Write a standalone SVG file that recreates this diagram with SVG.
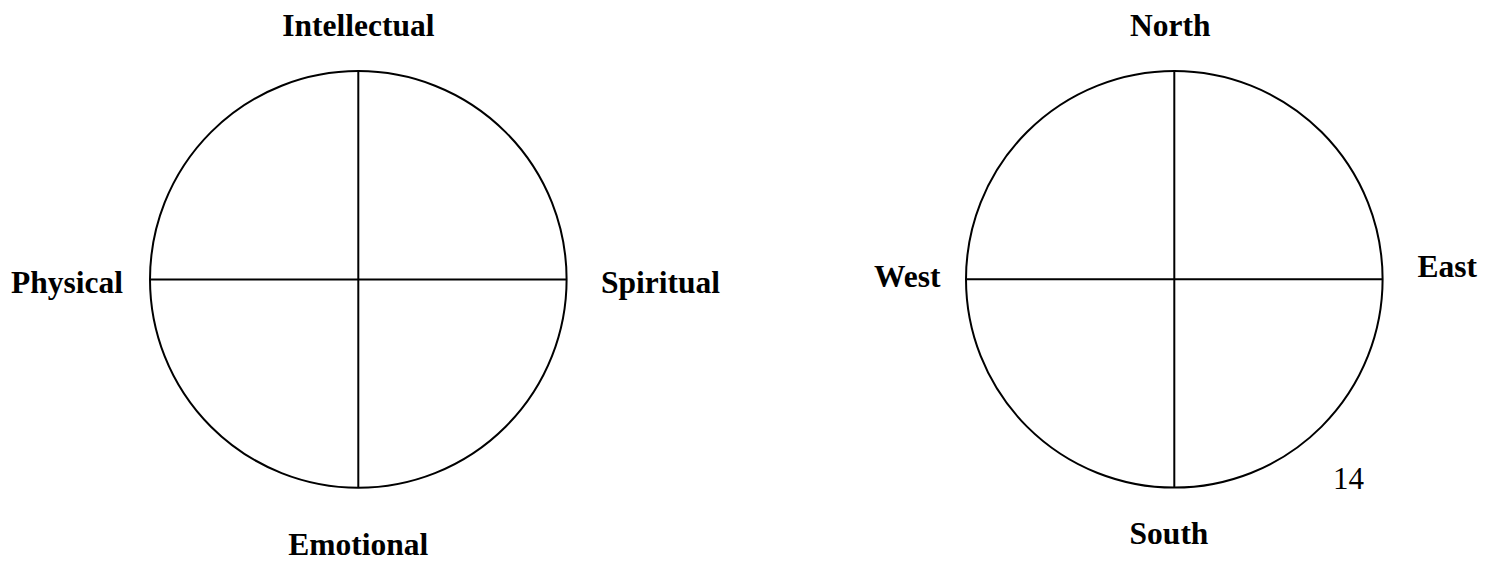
<svg xmlns="http://www.w3.org/2000/svg" width="1494" height="562" viewBox="0 0 1494 562">
<style>
.c{fill:none;stroke:#000;stroke-width:2}
.l{stroke:#000;stroke-width:2}
.t{font-family:"Liberation Serif","Times New Roman",serif;font-weight:bold;font-size:31.5px;fill:#000}
.n{font-family:"Liberation Serif","Times New Roman",serif;font-size:31px;fill:#000}
</style>
<rect width="1494" height="562" fill="#fff"/>
<g id="wheel-left">
<circle class="c" cx="358.3" cy="279.4" r="208.3"/>
</g>
<g id="wheel-right">
<circle class="c" cx="1174.3" cy="279.3" r="208.3"/>
</g>
<g id="connectors">
<line class="l" x1="358.3" y1="71" x2="358.3" y2="487.7"/>
<line class="l" x1="150" y1="279.4" x2="566.6" y2="279.4"/>
<line class="l" x1="1174.3" y1="71" x2="1174.3" y2="487.6"/>
<line class="l" x1="966" y1="279.3" x2="1382.6" y2="279.3"/>
</g>
<g id="labels-left">
<text class="t" x="358.3" y="36" text-anchor="middle">Intellectual</text>
<text class="t" x="11" y="293.3">Physical</text>
<text class="t" x="601" y="293.3">Spiritual</text>
<text class="t" x="358.3" y="555" text-anchor="middle">Emotional</text>
</g>
<g id="labels-right">
<text class="t" x="1170.3" y="36" text-anchor="middle">North</text>
<text class="t" x="874" y="286.7">West</text>
<text class="t" x="1417.5" y="276.7">East</text>
<text class="t" x="1169" y="544" text-anchor="middle">South</text>
<text class="n" x="1333" y="489.3">14</text>
</g>
</svg>
